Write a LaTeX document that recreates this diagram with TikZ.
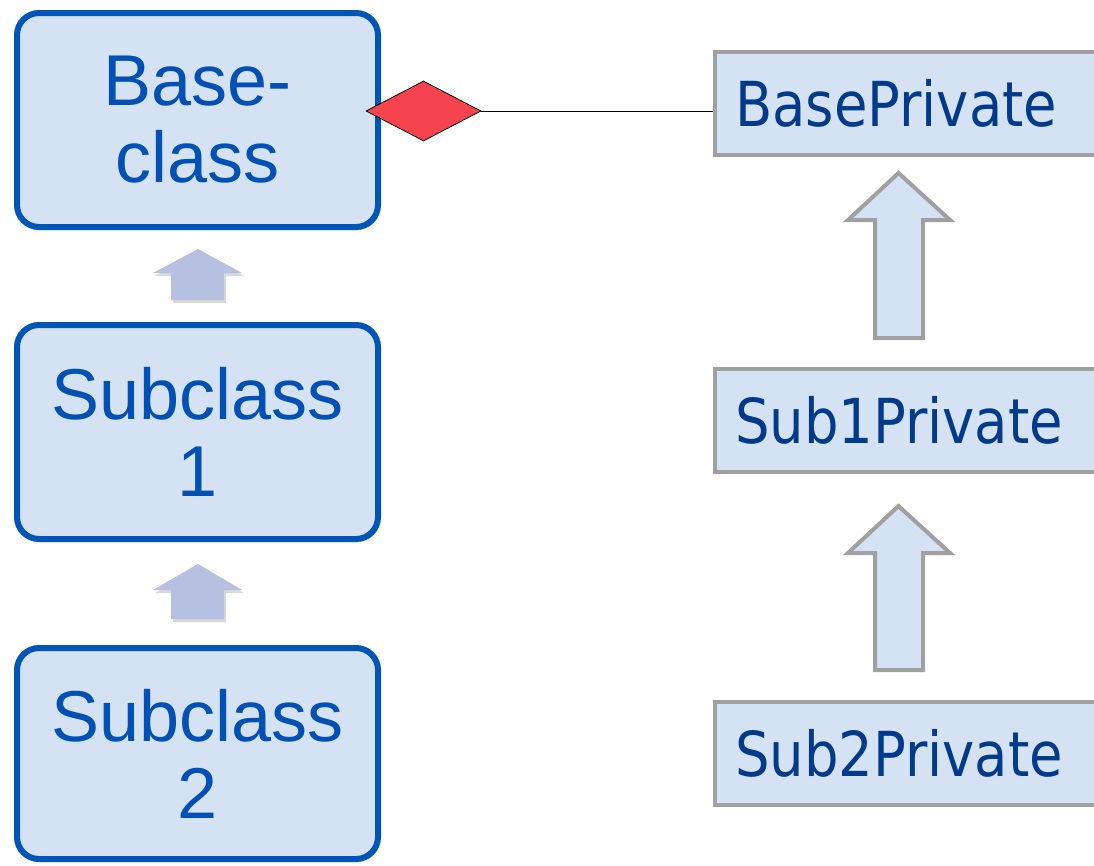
\documentclass[tikz,border=0pt]{standalone}
\usepackage{fontspec}
\newfontfamily\lfont{Liberation Sans}
\newfontfamily\rfont[FakeStretch=0.878]{DejaVu Sans}
\usetikzlibrary{shapes.geometric,shadows}
\definecolor{lborder}{HTML}{0055B8}
\definecolor{boxfill}{HTML}{D5E2F3}
\definecolor{ltext}{HTML}{0050B5}
\definecolor{rtext}{HTML}{003A8C}
\definecolor{gborder}{HTML}{A0A0A0}
\definecolor{sarrow}{HTML}{B7C0E0}
\definecolor{diared}{HTML}{F6444F}
\tikzset{
  softshadow/.style={drop shadow={shadow xshift=2pt, shadow yshift=-3pt, opacity=0.15, fill=black}},
  lbox/.style={draw=lborder, line width=6pt, fill=boxfill, rounded corners=22pt,
    minimum width=361pt, minimum height=214pt, inner sep=0pt, align=center,
    text=ltext, font=\lfont\fontsize{72}{77}\selectfont, softshadow},
  rbox/.style={draw=gborder, line width=4pt, fill=boxfill, minimum width=420pt,
    minimum height=103pt, inner xsep=20pt, inner ysep=0pt, text width=380pt, align=left,
    text=rtext, font=\rfont\fontsize{62}{70}\selectfont},
  bigarrow/.style={draw=gborder, line width=4pt, fill=boxfill, line join=miter},
  smallarrow/.style={fill=sarrow, softshadow},
  agg/.style={diamond, draw=black, line width=0.8pt, fill=diared, minimum width=115pt,
    minimum height=60pt, inner sep=0pt},
  link/.style={draw=black, line width=1pt}
}
\begin{document}
\begin{tikzpicture}[x=1pt,y=-1pt]
\useasboundingbox (0,0) rectangle (1094,865);
\clip (0,0) rectangle (1094,865);
% left hierarchy
\node[lbox] (base) at (197.5,120) {Base-\\class};
\node[lbox] (sub1) at (197.5,432) {Subclass\\1};
\node[lbox, minimum height=211pt] (sub2) at (197.5,753.5) {Subclass\\2};
\fill[smallarrow] (198,249) -- (242,273) -- (224,273) -- (224,300) -- (171,300) -- (171,273) -- (153,273) -- cycle;
\fill[smallarrow] (198,564) -- (242,590) -- (224,590) -- (224,619) -- (171,619) -- (171,590) -- (153,590) -- cycle;
% right hierarchy
\node[rbox] (bp) at (925,103.5) {BasePrivate};
\node[rbox] (s1p) at (925,420.5) {Sub1Private};
\node[rbox] (s2p) at (925,753.5) {Sub2Private};
\draw[bigarrow] (898.5,173) -- (950,220) -- (923,220) -- (923,338) -- (875,338) -- (875,220) -- (848,220) -- cycle;
\draw[bigarrow] (898.5,506) -- (950,553) -- (923,553) -- (923,670) -- (875,670) -- (875,553) -- (848,553) -- cycle;
% aggregation
\node[agg] (dia) at (423.5,111) {};
\draw[link] (dia.east) -- (dia.east -| bp.west);
\end{tikzpicture}
\end{document}
